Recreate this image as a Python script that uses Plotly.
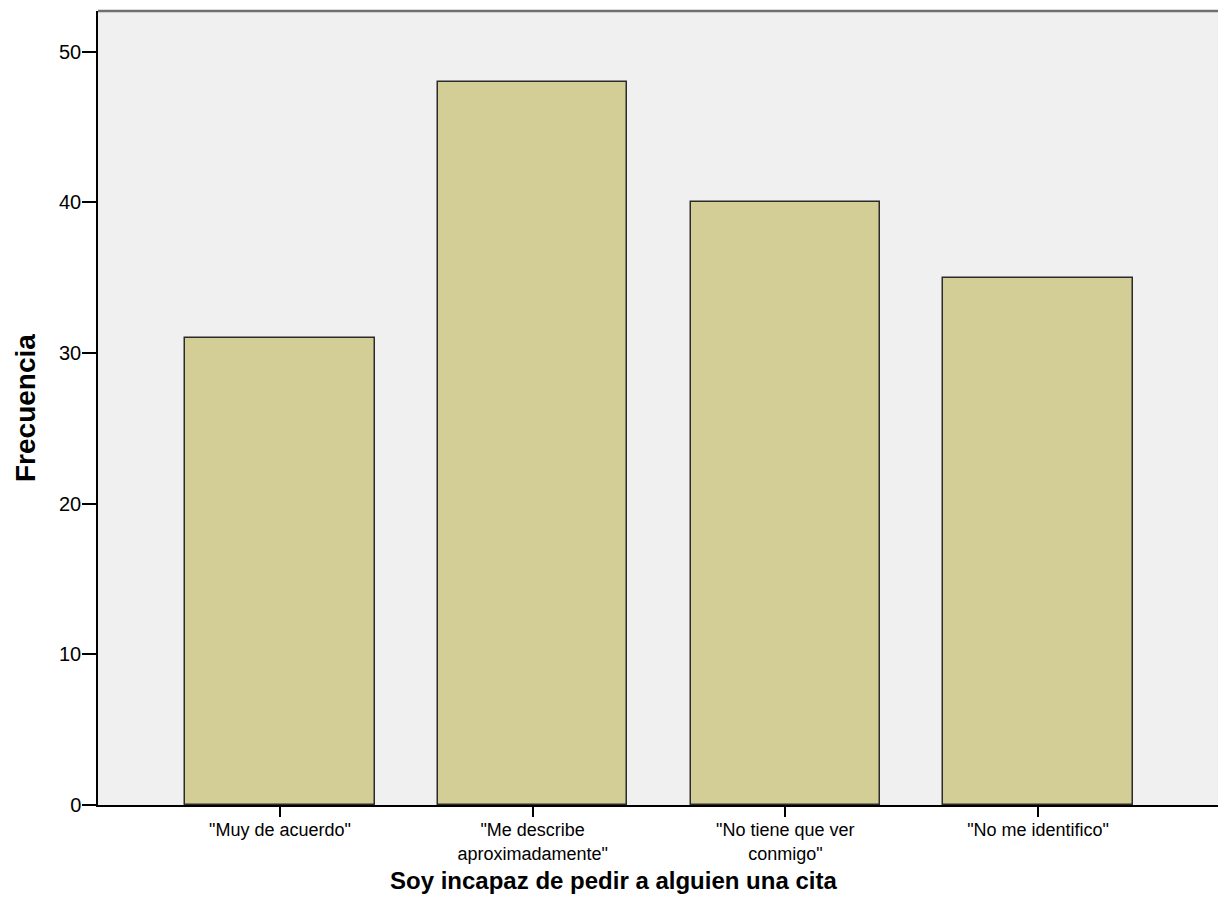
import plotly.graph_objects as go

categories = ['"Muy de acuerdo"', '"Me describe<br>aproximadamente"', '"No tiene que ver<br>conmigo"', '"No me identifico"']
frecuencia = [31, 48, 40, 35]
y_ticks = [0, 10, 20, 30, 40, 50]

# the page body adds an 8px offset; compensate
OFF = 8
W, H = 1226 - OFF, 919 - OFF

fig = go.Figure()
fig.add_trace(go.Bar(
    x=list(range(len(categories))),
    y=frecuencia,
    width=0.75,
    marker=dict(color="#D3CD96", line=dict(color="#2b2b2b", width=1.5)),
    hoverinfo="skip",
))

fig.update_layout(
    width=W, height=H,
    margin=dict(l=98 - OFF, r=6, t=11 - OFF, b=114),
    paper_bgcolor="white",
    plot_bgcolor="#F0F0F0",
    font=dict(family="Liberation Sans, Arial, sans-serif", color="black", size=18),
    showlegend=False,
    bargap=0,
)
fig.update_xaxes(
    range=[-0.72, 3.72],
    tickmode="array",
    tickvals=list(range(len(categories))),
    ticktext=categories,
    ticks="outside", ticklen=10, tickwidth=1.5, tickcolor="black",
    showline=True, linecolor="black", linewidth=1.5,
    mirror=False, showgrid=False, zeroline=False,
    tickfont=dict(size=18),
    ticklabelstandoff=-2,
    fixedrange=True,
)
fig.update_yaxes(
    range=[0, 52.7],
    tickmode="array",
    tickvals=y_ticks,
    ticks="outside", ticklen=14, tickwidth=1.5, tickcolor="black",
    showline=True, linecolor="black", linewidth=1.5,
    showgrid=False, zeroline=False,
    tickfont=dict(size=20),
    ticklabelstandoff=-3,
    fixedrange=True,
)
# top and right frame lines (grey)
fig.add_shape(type="line", xref="paper", yref="paper", x0=0, x1=1, y0=1, y1=1,
              line=dict(color="#707070", width=2.5))
fig.add_shape(type="line", xref="paper", yref="paper", x0=1, x1=1, y0=0, y1=1,
              line=dict(color="#707070", width=2.5))

fig.add_annotation(
    text="<b>Frecuencia</b>", textangle=-90,
    xref="paper", yref="paper", x=-(98 - 25) / 1122, y=0.5,
    xanchor="center", yanchor="middle", showarrow=False,
    font=dict(size=28),
)
fig.add_annotation(
    text="<b>Soy incapaz de pedir a alguien una cita</b>",
    xref="paper", yref="paper", x=(613 - 98) / 1122, y=-(880 - 805) / 794,
    xanchor="center", yanchor="middle", showarrow=False,
    font=dict(size=24),
)

fig.write_html("out.html")
